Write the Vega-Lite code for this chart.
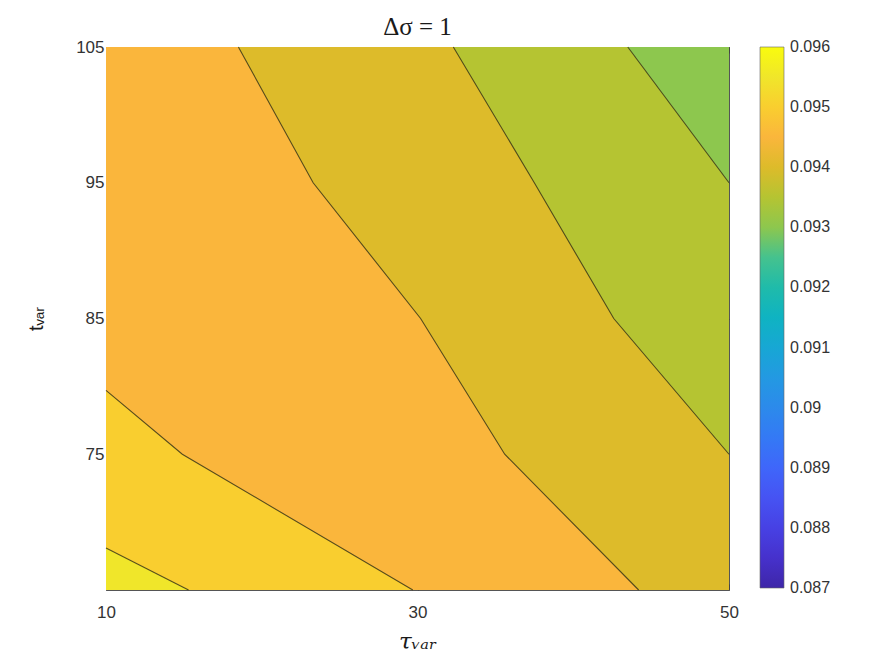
{
  "$schema": "https://vega.github.io/schema/vega-lite/v6.json",
  "width": 623,
  "height": 543,
  "autosize": "none",
  "padding": {"left": 106, "top": 47, "right": 164, "bottom": 74},
  "background": "white",
  "config": {
    "view": {"stroke": "#555555", "strokeWidth": 1},
    "font": "Liberation Sans"
  },
  "title": {
    "text": "Δσ = 1",
    "font": "Liberation Serif",
    "fontSize": 25,
    "fontWeight": "normal",
    "color": "#1a1a1a",
    "anchor": "middle",
    "frame": "group",
    "offset": -2
  },
  "datasets": {
    "fills": [
      {"band": "R0", "y": 65, "x": 10, "level": 0.0955},
      {"band": "R0", "y": 105, "x": 10, "level": 0.0955},
      {"band": "A", "y": 65, "x": 15.3, "level": 0.095},
      {"band": "A", "y": 68.1, "x": 10, "level": 0.095},
      {"band": "A", "y": 105, "x": 10, "level": 0.095},
      {"band": "B", "y": 65, "x": 29.7, "level": 0.0945},
      {"band": "B", "y": 75, "x": 14.9, "level": 0.0945},
      {"band": "B", "y": 79.7, "x": 10, "level": 0.0945},
      {"band": "B", "y": 105, "x": 10, "level": 0.0945},
      {"band": "C", "y": 65, "x": 44.2, "level": 0.094},
      {"band": "C", "y": 75, "x": 35.6, "level": 0.094},
      {"band": "C", "y": 85, "x": 30.2, "level": 0.094},
      {"band": "C", "y": 95, "x": 23.3, "level": 0.094},
      {"band": "C", "y": 105, "x": 18.5, "level": 0.094},
      {"band": "D", "y": 65, "x": 50, "level": 0.0935},
      {"band": "D", "y": 75, "x": 50, "level": 0.0935},
      {"band": "D", "y": 85, "x": 42.6, "level": 0.0935},
      {"band": "D", "y": 95, "x": 37.5, "level": 0.0935},
      {"band": "D", "y": 105, "x": 32.3, "level": 0.0935},
      {"band": "E", "y": 65, "x": 50, "level": 0.093},
      {"band": "E", "y": 95, "x": 50, "level": 0.093},
      {"band": "E", "y": 105, "x": 43.5, "level": 0.093}
    ],
    "contours": [
      {"line": "A", "x": 10, "y": 68.1},
      {"line": "A", "x": 15.3, "y": 65},
      {"line": "B", "x": 10, "y": 79.7},
      {"line": "B", "x": 14.9, "y": 75},
      {"line": "B", "x": 29.7, "y": 65},
      {"line": "C", "x": 18.5, "y": 105},
      {"line": "C", "x": 23.3, "y": 95},
      {"line": "C", "x": 30.2, "y": 85},
      {"line": "C", "x": 35.6, "y": 75},
      {"line": "C", "x": 44.2, "y": 65},
      {"line": "D", "x": 32.3, "y": 105},
      {"line": "D", "x": 37.5, "y": 95},
      {"line": "D", "x": 42.6, "y": 85},
      {"line": "D", "x": 50, "y": 75},
      {"line": "E", "x": 43.5, "y": 105},
      {"line": "E", "x": 50, "y": 95}
    ]
  },
  "layer": [
    {
      "data": {"name": "fills"},
      "encoding": {
        "y": {
          "field": "y",
          "type": "quantitative",
          "scale": {"domain": [65, 105], "nice": false, "zero": false},
          "axis": {
            "orient": "left",
            "values": [75, 85, 95, 105],
            "title": "tᵥₐᵣ",
            "titleFont": "Liberation Sans",
            "titleFontSize": 20,
            "titleFontWeight": "normal",
            "titleColor": "#1a1a1a",
            "titlePadding": 29,
            "labelFont": "Liberation Sans",
            "labelFontSize": 17,
            "labelColor": "#333333",
            "labelPadding": 8,
            "tickSize": -6,
            "tickColor": "#444444",
            "domain": false,
            "grid": false
          }
        },
        "x": {
          "field": "x",
          "type": "quantitative",
          "stack": null,
          "scale": {"domain": [10, 50], "nice": false, "zero": false},
          "axis": {
            "orient": "bottom",
            "values": [10, 30, 50],
            "title": "τᵥₐᵣ",
            "titleFont": "DejaVu Serif",
            "titleFontStyle": "italic",
            "titleFontSize": 23,
            "titleFontWeight": "normal",
            "titleColor": "#1a1a1a",
            "titlePadding": 10,
            "labelFont": "Liberation Sans",
            "labelFontSize": 17,
            "labelColor": "#333333",
            "labelPadding": 20,
            "labelFlush": false,
            "tickSize": -6,
            "tickColor": "#444444",
            "domain": false,
            "grid": false
          }
        },
        "x2": {"datum": 50},
        "fill": {
          "field": "level",
          "type": "quantitative",
          "scale": {
            "domain": [0.087, 0.0875, 0.088, 0.0885, 0.089, 0.0895, 0.09, 0.0905, 0.091, 0.0915, 0.092, 0.0925, 0.093, 0.0935, 0.094, 0.0945, 0.095, 0.0955, 0.096],
            "range": ["#3e26a8", "#4631cc", "#4741e4", "#4653f3", "#3f66fa", "#3479f5", "#2c8aeb", "#2399e2", "#17a7d4", "#0fb3c2", "#1fbbaa", "#45c28e", "#8dc74e", "#b5c432", "#ddbb2a", "#fab63c", "#f9ce2f", "#f0e62a", "#f9fb0e"]
          },
          "legend": {
            "orient": "right",
            "offset": 28,
            "title": null,
            "direction": "vertical",
            "gradientLength": 541,
            "gradientThickness": 24,
            "gradientStrokeColor": "#666666",
            "gradientStrokeWidth": 0.6,
            "values": [0.087, 0.088, 0.089, 0.09, 0.091, 0.092, 0.093, 0.094, 0.095, 0.096],
            "format": ".3~f",
            "labelFont": "Liberation Sans",
            "labelFontSize": 16,
            "labelColor": "#333333",
            "labelOffset": 6,
            "labelBaseline": "middle",
            "labelOverlap": false,
            "padding": 0,
            "encode": {
              "labels": {
                "update": {"baseline": {"value": "middle"}}
              }
            }
          }
        }
      },
      "layer": [
        {"transform": [{"filter": "datum.band === 'R0'"}], "mark": {"type": "area", "orient": "horizontal"}},
        {"transform": [{"filter": "datum.band === 'A'"}], "mark": {"type": "area", "orient": "horizontal"}},
        {"transform": [{"filter": "datum.band === 'B'"}], "mark": {"type": "area", "orient": "horizontal"}},
        {"transform": [{"filter": "datum.band === 'C'"}], "mark": {"type": "area", "orient": "horizontal"}},
        {"transform": [{"filter": "datum.band === 'D'"}], "mark": {"type": "area", "orient": "horizontal"}},
        {"transform": [{"filter": "datum.band === 'E'"}], "mark": {"type": "area", "orient": "horizontal"}}
      ]
    },
    {
      "data": {"name": "contours"},
      "mark": {"type": "line", "stroke": "#3b3718", "strokeWidth": 1.1, "strokeOpacity": 0.85},
      "encoding": {
        "x": {
          "field": "x",
          "type": "quantitative",
          "axis": {"orient": "top", "values": [10, 30, 50], "labels": false, "title": null, "tickSize": -6, "tickColor": "#444444", "domain": false, "grid": false}
        },
        "y": {
          "field": "y",
          "type": "quantitative",
          "axis": {"orient": "right", "values": [75, 85, 95, 105], "labels": false, "title": null, "tickSize": -6, "tickColor": "#444444", "domain": false, "grid": false}
        },
        "detail": {"field": "line"},
        "order": {"field": "y"}
      }
    }
  ],
  "resolve": {"axis": {"x": "independent", "y": "independent"}}
}
